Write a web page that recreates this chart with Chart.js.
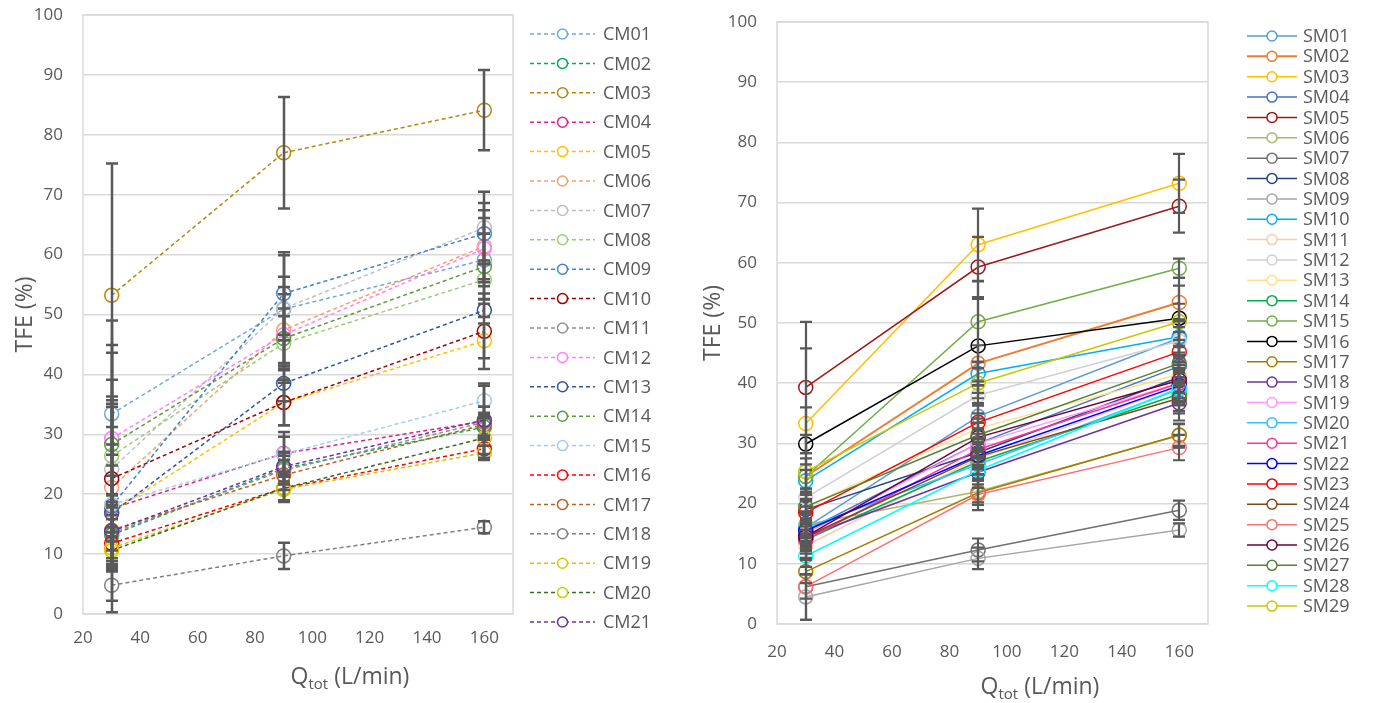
<!DOCTYPE html>
<html>
<head>
<meta charset="utf-8">
<script src="https://cdn.jsdelivr.net/npm/chart.js@4.4.1/dist/chart.umd.min.js"></script>
<style>
  html, body { margin: 0; padding: 0; background: #fff; }
  #wrap { position: relative; width: 1375px; height: 703px; }
  canvas { position: absolute; top: 0; }
  #cmChart { left: 0; }
  #smChart { left: 690px; }
</style>
</head>
<body>
<div id="wrap">
  <canvas id="cmChart" width="690" height="703"></canvas>
  <canvas id="smChart" width="685" height="703"></canvas>
</div>
<script>
// Flow rates (x values), L/min
const qTot = [30, 90, 160];
const xTicks = [20, 40, 60, 80, 100, 120, 140, 160];
const yTicks = [0, 10, 20, 30, 40, 50, 60, 70, 80, 90, 100];

// Left panel: CM masks, TFE (%) at each flow rate
const cmNames = ['CM01','CM02','CM03','CM04','CM05','CM06','CM07','CM08','CM09','CM10','CM11',
                 'CM12','CM13','CM14','CM15','CM16','CM17','CM18','CM19','CM20','CM21'];
const cmTFE = [
  [33.4, 50.9, 59.1],
  [13.2, 24.3, 31.2],
  [53.2, 77.0, 84.1],
  [17.6, 26.8, 32.2],
  [17.0, 35.3, 45.6],
  [21.1, 47.4, 61.4],
  [24.2, 51.0, 64.5],
  [26.4, 45.2, 55.8],
  [18.0, 53.5, 63.5],
  [22.6, 35.3, 47.2],
  [13.5, 24.0, 32.0],
  [29.3, 46.6, 61.0],
  [16.8, 38.5, 50.7],
  [28.3, 46.0, 58.0],
  [18.3, 26.7, 35.6],
  [11.8, 21.0, 27.6],
  [14.0, 23.2, 31.6],
  [4.8, 9.7, 14.5],
  [11.0, 20.8, 26.9],
  [10.6, 21.0, 29.4],
  [13.8, 24.6, 32.4]
];
const cmErr = [
  [15.6, 9.0, 4.4],
  [5.0, 2.6, 2.0],
  [22.0, 9.3, 6.7],
  [5.5, 3.6, 2.4],
  [9.6, 3.8, 2.9],
  [14.0, 6.0, 6.0],
  [14.9, 5.3, 6.0],
  [9.9, 4.5, 3.2],
  [17.7, 6.9, 5.1],
  [12.0, 3.8, 6.3],
  [5.2, 2.4, 2.6],
  [15.6, 8.0, 5.1],
  [8.0, 3.0, 1.1],
  [15.3, 5.0, 5.5],
  [10.0, 2.9, 2.9],
  [4.0, 2.0, 1.5],
  [6.0, 2.5, 2.0],
  [2.6, 2.2, 1.0],
  [3.5, 2.1, 1.2],
  [3.0, 2.0, 3.5],
  [6.0, 2.5, 5.7]
];

// Right panel: SM masks
const smNames = ['SM01','SM02','SM03','SM04','SM05','SM06','SM07','SM08','SM09','SM10',
                 'SM11','SM12','SM13','SM14','SM15','SM16','SM17','SM18','SM19','SM20',
                 'SM21','SM22','SM23','SM24','SM25','SM26','SM27','SM28','SM29'];
const smTFE = [
  [16.0, 34.5, 47.5],
  [24.5, 43.3, 53.4],
  [33.3, 63.0, 73.2],
  [15.5, 30.0, 42.8],
  [39.3, 59.3, 69.4],
  [16.5, 22.0, 31.3],
  [6.2, 12.3, 18.9],
  [19.0, 28.5, 41.0],
  [4.5, 10.9, 15.6],
  [23.8, 41.6, 47.7],
  [13.0, 27.5, 39.5],
  [21.0, 38.0, 47.0],
  [19.5, 32.5, 41.5],
  [14.0, 27.0, 38.2],
  [24.5, 50.2, 59.1],
  [29.9, 46.2, 50.8],
  [8.7, 21.8, 31.4],
  [14.5, 25.2, 36.7],
  [15.0, 30.0, 40.0],
  [16.0, 26.5, 39.0],
  [14.0, 29.0, 40.0],
  [15.5, 28.0, 39.6],
  [18.5, 33.5, 45.2],
  [14.5, 27.8, 37.5],
  [6.2, 21.5, 29.3],
  [14.5, 31.0, 40.5],
  [19.5, 31.4, 43.3],
  [11.3, 25.5, 39.2],
  [25.3, 40.0, 50.2]
];
const smErr = [
  [2.5, 2.2, 3.0],
  [2.0, 3.0, 2.8],
  [12.5, 6.0, 4.9],
  [1.8, 2.5, 3.2],
  [10.9, 5.0, 4.4],
  [2.2, 1.8, 2.0],
  [5.5, 1.9, 1.6],
  [1.6, 2.4, 2.6],
  [3.8, 1.8, 1.1],
  [1.8, 2.0, 2.6],
  [2.0, 2.6, 3.0],
  [1.5, 1.7, 2.3],
  [2.3, 2.5, 3.1],
  [1.7, 2.2, 2.8],
  [3.0, 6.7, 1.6],
  [1.5, 7.8, 6.7],
  [1.9, 2.0, 1.8],
  [2.1, 2.6, 2.9],
  [1.8, 2.3, 3.0],
  [2.2, 2.4, 2.7],
  [1.6, 2.6, 3.1],
  [2.0, 2.2, 2.6],
  [1.9, 2.8, 3.3],
  [2.4, 2.1, 2.5],
  [2.0, 2.6, 2.1],
  [1.7, 2.4, 3.0],
  [2.0, 2.7, 2.9],
  [1.8, 2.3, 2.8],
  [10.7, 2.5, 3.0]
];

// Series colours
const cmColors = ['#6FA8DC','#00B050','#B8860B','#E0218A','#FFC000','#F4A070','#BFBFBF',
                  '#9BCB78','#3F83CF','#A00000','#909090','#FF80FF','#2F55A0','#5B9B3A',
                  '#A9CBEA','#FF0000','#B8622A','#7F7F7F','#CCCC00','#3A6B1F','#7030A0'];
const cmMarkerColors = cmColors.map((c, i) => i === 19 ? '#CCCC00' : c);
const smColors = ['#5B9BD5','#ED7D31','#FFC000','#4472C4','#9E1A1A','#A9B86A','#707070',
                  '#264478','#A5A5A5','#00B0F0','#F8CBAD','#D0D0D0','#FFE08A','#00B050',
                  '#70AD47','#000000','#A67C00','#7030A0','#FF99FF','#33C3F5','#FF3399',
                  '#0000FF','#FF0000','#7B4A12','#FF7070','#6E0040','#548235','#00FFFF',
                  '#C8C800'];

const FONT = "'Open Sans', 'DejaVu Sans', sans-serif";
const TEXT = '#595959';
const GRID = '#D9D9D9';

// Error bars, drawn through the chart's scales
const errorBars = {
  id: 'errorBars',
  afterDatasetsDraw(chart, args, opts) {
    const { ctx, scales: { x, y } } = chart;
    ctx.save();
    ctx.strokeStyle = '#595959';
    ctx.lineWidth = opts.width || 2;
    chart.data.datasets.forEach(ds => {
      ds.data.forEach((p, j) => {
        const e = ds.errors[j];
        const px = Math.round(x.getPixelForValue(p.x));
        const top = y.getPixelForValue(Math.min(100, p.y + e));
        const bot = y.getPixelForValue(Math.max(0, p.y - e));
        ctx.beginPath();
        ctx.moveTo(px, top); ctx.lineTo(px, bot);
        ctx.moveTo(px - 6, top); ctx.lineTo(px + 6, top);
        ctx.moveTo(px - 6, bot); ctx.lineTo(px + 6, bot);
        ctx.stroke();
      });
    });
    ctx.restore();
  }
};

// Plot area frame
const frame = {
  id: 'frame',
  beforeDatasetsDraw(chart) {
    const { ctx, chartArea: a } = chart;
    ctx.save();
    ctx.strokeStyle = GRID;
    ctx.lineWidth = 1.5;
    ctx.strokeRect(a.left, a.top, a.right - a.left, a.bottom - a.top);
    ctx.restore();
  }
};

// Side legend + axis titles
const decorations = {
  id: 'decorations',
  afterDraw(chart, args, opts) {
    const { ctx, chartArea: a } = chart;
    ctx.save();
    // legend
    chart.data.datasets.forEach((ds, i) => {
      const cy = opts.legendTop + i * opts.legendStep;
      ctx.strokeStyle = ds.borderColor;
      ctx.lineWidth = ds.borderWidth;
      ctx.setLineDash(opts.dashed ? [4, 3] : []);
      ctx.beginPath();
      ctx.moveTo(opts.legendX, cy);
      ctx.lineTo(opts.legendX + opts.legendLine, cy);
      ctx.stroke();
      ctx.setLineDash([]);
      ctx.fillStyle = '#fff';
      ctx.strokeStyle = ds.pointBorderColor;
      ctx.lineWidth = 1.5;
      ctx.beginPath();
      ctx.arc(opts.legendX + opts.legendLine / 2, cy, 5, 0, Math.PI * 2);
      ctx.fill();
      ctx.stroke();
      ctx.fillStyle = TEXT;
      ctx.font = opts.legendFont + 'px ' + FONT;
      ctx.textBaseline = 'middle';
      ctx.textAlign = 'left';
      ctx.fillText(ds.label, opts.legendText, cy + 1);
    });
    // y title
    ctx.fillStyle = TEXT;
    ctx.font = '23px ' + FONT;
    ctx.textAlign = 'center';
    ctx.textBaseline = 'middle';
    ctx.translate(opts.yTitleX, (a.top + a.bottom) / 2);
    ctx.rotate(-Math.PI / 2);
    ctx.fillText('TFE (%)', 0, 0);
    ctx.setTransform(1, 0, 0, 1, 0, 0);
    // x title with subscript
    const big = '23px ' + FONT, small = '15px ' + FONT;
    ctx.textBaseline = 'alphabetic';
    ctx.textAlign = 'left';
    ctx.font = big; const wQ = ctx.measureText('Q').width; const wRest = ctx.measureText(' (L/min)').width;
    ctx.font = small; const wSub = ctx.measureText('tot').width;
    let sx = opts.xTitleX - (wQ + wSub + wRest) / 2;
    ctx.font = big; ctx.fillText('Q', sx, opts.xTitleY);
    ctx.font = small; ctx.fillText('tot', sx + wQ, opts.xTitleY + 5);
    ctx.font = big; ctx.fillText(' (L/min)', sx + wQ + wSub, opts.xTitleY);
    ctx.restore();
  }
};

function makeChart(id, names, values, errors, colors, markerColors, dashed, geo) {
  const n = names.length;
  const datasets = names.map((name, i) => ({
    label: name,
    data: qTot.map((q, j) => ({ x: q, y: values[i][j] })),
    errors: errors[i],
    borderColor: colors[i],
    pointBorderColor: markerColors[i],
    pointBackgroundColor: 'rgba(0,0,0,0)',
    pointRadius: 7,
    pointBorderWidth: 1.5,
    borderWidth: (!dashed && name === 'SM02') ? 2 : 1.5,
    borderDash: dashed ? [4, 3] : [],
    tension: 0,
    fill: false,
    order: n - i
  }));

  return new Chart(document.getElementById(id), {
    type: 'line',
    data: { datasets },
    plugins: [frame, errorBars, decorations],
    options: {
      responsive: false,
      animation: false,
      events: [],
      layout: { padding: { left: 0, right: geo.padRight, top: geo.padTop, bottom: 0 } },
      scales: {
        x: {
          type: 'linear', min: 20, max: 170,
          afterBuildTicks: s => { s.ticks = xTicks.map(v => ({ value: v })); },
          afterFit: s => { s.height = geo.xHeight; s.paddingLeft = 0; s.paddingRight = 0; },
          ticks: { color: TEXT, font: { family: FONT, size: 17 }, padding: geo.xPad },
          grid: { display: false, drawTicks: false },
          border: { display: false }
        },
        y: {
          min: 0, max: 100,
          afterBuildTicks: s => { s.ticks = yTicks.map(v => ({ value: v })); },
          afterFit: s => { s.width = geo.yWidth; s.paddingTop = 0; s.paddingBottom = 0; },
          ticks: { color: TEXT, font: { family: FONT, size: 17 }, padding: 20 },
          grid: { color: GRID, lineWidth: 1.5, drawTicks: false },
          border: { display: false }
        }
      },
      plugins: {
        legend: { display: false },
        tooltip: { enabled: false },
        errorBars: { width: geo.errWidth },
        decorations: {
          dashed,
          legendX: geo.legendX, legendLine: geo.legendLine, legendText: geo.legendText,
          legendTop: geo.legendTop, legendStep: geo.legendStep, legendFont: geo.legendFont,
          yTitleX: geo.yTitleX, xTitleX: geo.xTitleX, xTitleY: geo.xTitleY
        }
      }
    }
  });
}

makeChart('cmChart', cmNames, cmTFE, cmErr, cmColors, cmMarkerColors, true, {
  padRight: 177, padTop: 15, xHeight: 89, yWidth: 83, xPad: 14, errWidth: 2.5,
  legendX: 530, legendLine: 65, legendText: 603, legendTop: 34, legendStep: 29.4, legendFont: 18,
  yTitleX: 25, xTitleX: 350, xTitleY: 684
});

makeChart('smChart', smNames, smTFE, smErr, smColors, smColors, false, {
  padRight: 167, padTop: 22, xHeight: 79, yWidth: 87, xPad: 18, errWidth: 2.2,
  legendX: 557, legendLine: 50, legendText: 613, legendTop: 36, legendStep: 20.36, legendFont: 18,
  yTitleX: 23, xTitleX: 350, xTitleY: 694
});
</script>
</body>
</html>
